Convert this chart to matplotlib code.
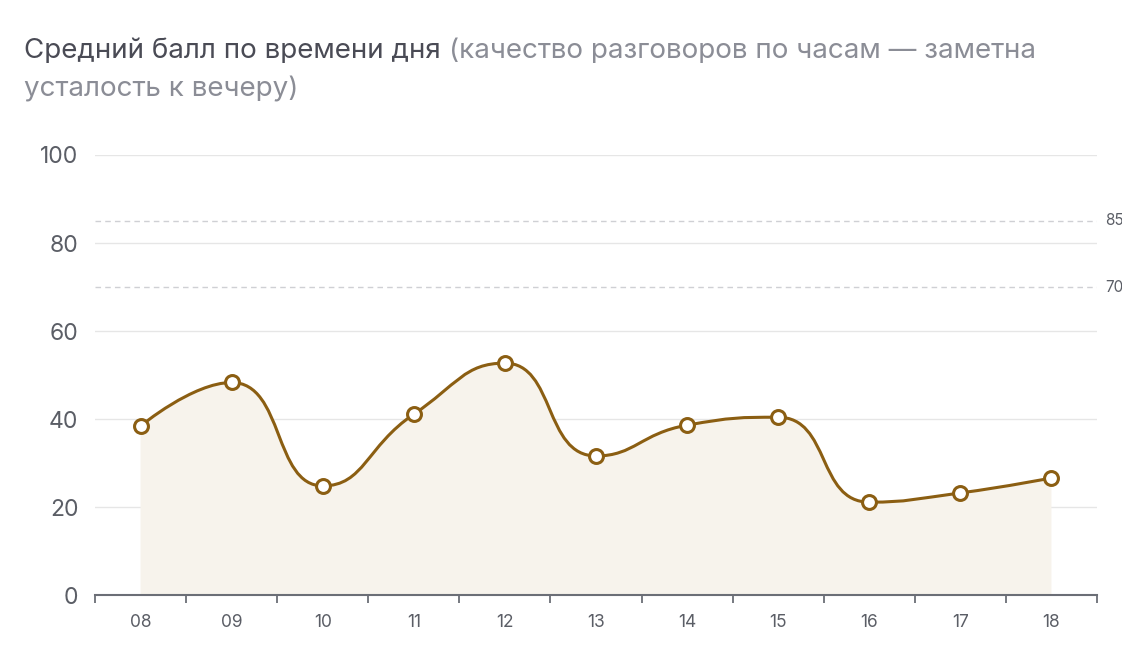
import numpy as np
import matplotlib.pyplot as plt
from matplotlib.path import Path
from matplotlib.patches import PathPatch

hours = ["08", "09", "10", "11", "12", "13", "14", "15", "16", "17", "18"]
scores = [38.4, 48.3, 24.8, 41.1, 52.7, 31.6, 38.6, 40.4, 21.1, 23.2, 26.6]
ref_levels = [85, 70]
ref_labels = ["85", "70"]

LINE = "#8b5e12"
FILL = "#f7f3ec"
AXIS = "#6b6e76"
TEXT = "#5b5e66"
plt.rcParams["font.family"] = ["Inter", "DejaVu Sans"]


def clamp(v, a, b):
    return min(max(v, min(a, b)), max(a, b))


def smooth_path(xs, ys, sx, sy, smooth=0.5):
    # bezier smoothing with clamped control points (no overshoot at extremes),
    # control points worked out in pixel space
    px = [float(v) * sx for v in xs]
    py = [float(v) * sy for v in ys]
    n = len(px)
    cps = []
    for i in range(n):
        x, y = px[i], py[i]
        if i == 0 or i == n - 1:
            cps.append(((x, y), (x, y)))
            continue
        x0, y0, x2, y2 = px[i - 1], py[i - 1], px[i + 1], py[i + 1]
        vx, vy = x2 - x0, y2 - y0
        l0 = np.hypot(x - x0, y - y0)
        l1 = np.hypot(x2 - x, y2 - y)
        r = l1 / (l0 + l1)
        c1x = clamp(x + vx * smooth * r, x, x2)
        c1y = clamp(y + vy * smooth * r, y, y2)
        vx, vy = c1x - x, c1y - y
        c0x = clamp(x - vx * l0 / l1, x0, x)
        c0y = clamp(y - vy * l0 / l1, y0, y)
        vx, vy = x - c0x, y - c0y
        c1x = x + vx * l1 / l0
        c1y = y + vy * l1 / l0
        cps.append(((c0x, c0y), (c1x, c1y)))
    verts = [(px[0], py[0])]
    codes = [Path.MOVETO]
    for i in range(n - 1):
        verts += [cps[i][1], cps[i + 1][0], (px[i + 1], py[i + 1])]
        codes += [Path.CURVE4] * 3
    verts = [(a / sx, b / sy) for a, b in verts]
    return verts, codes


fig = plt.figure(figsize=(11.22, 6.56), dpi=100)
ax = fig.add_axes([95 / 1122, 61 / 656, 1002 / 1122, 440 / 656])

x = np.arange(len(hours))
verts, codes = smooth_path(x, scores, 91.1, 4.4)

fill_verts = verts + [(x[-1], 0), (x[0], 0), verts[0]]
fill_codes = codes + [Path.LINETO, Path.LINETO, Path.CLOSEPOLY]
ax.add_patch(PathPatch(Path(fill_verts, fill_codes), facecolor=FILL,
                       edgecolor="none", zorder=1))
ax.add_patch(PathPatch(Path(verts, codes), facecolor="none", edgecolor=LINE,
                       lw=2.2, zorder=3))
ax.plot(x, scores, "o", ms=10, mfc="white", mec=LINE, mew=2.2, zorder=4)

for y in [20, 40, 60, 80, 100]:
    ax.axhline(y, color="#e6e6e6", lw=1, zorder=0)
for lvl, lab in zip(ref_levels, ref_labels):
    ax.axhline(lvl, color="#cfd0d4", lw=1, ls=(0, (4, 3)), zorder=2)
    ax.text(1.008, lvl, lab, transform=ax.get_yaxis_transform(),
            va="center", ha="left", fontsize=11, color=TEXT)

ax.set_xlim(-0.5, len(hours) - 0.5)
ax.set_ylim(0, 100)
ax.set_yticks([0, 20, 40, 60, 80, 100])
ax.tick_params(axis="y", length=0, labelsize=16.5, labelcolor=TEXT, pad=12)
ax.set_xticks(np.arange(len(hours) + 1) - 0.5)
ax.set_xticklabels([])
ax.set_xticks(x, minor=True)
ax.set_xticklabels(hours, minor=True)
ax.tick_params(axis="x", which="major", length=6, width=1.3, color=AXIS)
ax.tick_params(axis="x", which="minor", length=0, labelsize=12.5,
               labelcolor=TEXT, pad=14)
for s in ["top", "right", "left"]:
    ax.spines[s].set_visible(False)
ax.spines["bottom"].set_color(AXIS)
ax.spines["bottom"].set_linewidth(1.5)

t1 = fig.text(24 / 1122, 1 - 58 / 656, "Средний балл по времени дня ",
              fontsize=20, color="#4a4b55", va="baseline")
fig.canvas.draw()
ax.annotate("(качество разговоров по часам — заметна", xy=(1, 0),
            xycoords=t1, va="bottom", fontsize=20, color="#8b8d96",
            annotation_clip=False)
fig.text(24 / 1122, 1 - 97 / 656, "усталость к вечеру)", fontsize=20,
         color="#8b8d96", va="baseline")

plt.savefig("out.png", dpi=100)
